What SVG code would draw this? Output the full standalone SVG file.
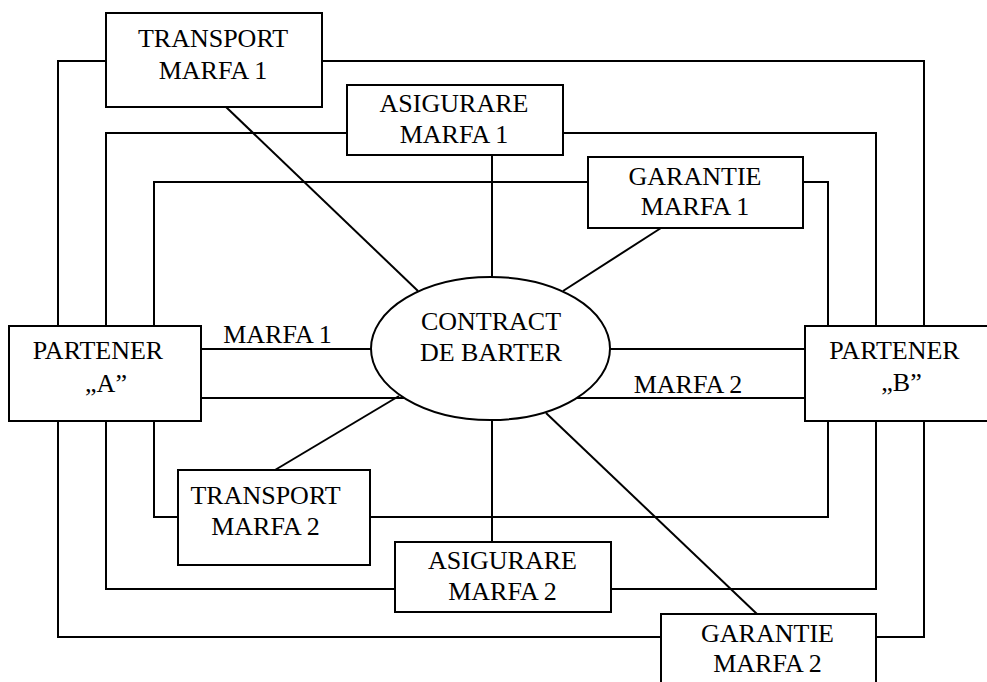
<svg xmlns="http://www.w3.org/2000/svg" width="987" height="682" viewBox="0 0 987 682">
  <style>
    .wire { fill: none; stroke: #000; stroke-width: 2; }
    .box { fill: #fff; stroke: #000; stroke-width: 2; }
    .lbl { font-family: "Liberation Serif", "Times New Roman", serif; font-size: 26px; fill: #000; text-anchor: middle; }
  </style>
  <rect width="987" height="682" fill="#fff"/>

  <g id="connectors">
    <!-- outer loop: transport 1 / garantie 2 -->
    <path class="wire" d="M106,61 H58 V326"/>
    <path class="wire" d="M58,421 V637 H661"/>
    <path class="wire" d="M322,61 H924 V326"/>
    <path class="wire" d="M924,421 V637 H876"/>
    <!-- middle loop: asigurare 1 / asigurare 2 -->
    <path class="wire" d="M347,133 H106 V326"/>
    <path class="wire" d="M106,421 V589 H395"/>
    <path class="wire" d="M563,133 H876 V326"/>
    <path class="wire" d="M876,421 V589 H611"/>
    <!-- inner loop: garantie 1 / transport 2 -->
    <path class="wire" d="M588,182 H154 V326"/>
    <path class="wire" d="M154,421 V517 H178"/>
    <path class="wire" d="M803,182 H828 V326"/>
    <path class="wire" d="M828,421 V517 H370"/>
    <!-- spokes to the contract -->
    <path class="wire" d="M492,155 V280"/>
    <path class="wire" d="M492,418 V542"/>
    <path class="wire" d="M226,107 L418,291"/>
    <path class="wire" d="M661,228 L563,291"/>
    <path class="wire" d="M275,470 L399,396"/>
    <path class="wire" d="M757,614 L546,413"/>
    <!-- goods flows between partners and contract -->
    <path class="wire" d="M201,349 H375"/>
    <path class="wire" d="M201,398 H405"/>
    <path class="wire" d="M606,349 H805"/>
    <path class="wire" d="M576,398 H805"/>
  </g>

  <g id="contract">
    <ellipse class="box" cx="490.5" cy="348.5" rx="119.5" ry="71.5"/>
    <text class="lbl" x="491" y="330">CONTRACT</text>
    <text class="lbl" x="491" y="361">DE BARTER</text>
  </g>

  <g id="partener-a">
    <rect class="box" x="9" y="326" width="192" height="95"/>
    <text class="lbl" x="98" y="359">PARTENER</text>
    <text class="lbl" x="106" y="391.5">„A”</text>
  </g>

  <g id="partener-b">
    <rect class="box" x="805" y="326" width="190" height="95"/>
    <text class="lbl" x="894.5" y="358.5">PARTENER</text>
    <text class="lbl" x="901.5" y="391">„B”</text>
  </g>

  <g id="transport-1">
    <rect class="box" x="106" y="13" width="216" height="94"/>
    <text class="lbl" x="213" y="47">TRANSPORT</text>
    <text class="lbl" x="213" y="79">MARFA 1</text>
  </g>

  <g id="asigurare-1">
    <rect class="box" x="347" y="85" width="216" height="70"/>
    <text class="lbl" x="454" y="111.5">ASIGURARE</text>
    <text class="lbl" x="454" y="143">MARFA 1</text>
  </g>

  <g id="garantie-1">
    <rect class="box" x="588" y="157" width="215" height="71"/>
    <text class="lbl" x="695" y="185">GARANTIE</text>
    <text class="lbl" x="695" y="215">MARFA 1</text>
  </g>

  <g id="transport-2">
    <rect class="box" x="178" y="470" width="192" height="95"/>
    <text class="lbl" x="265.5" y="504">TRANSPORT</text>
    <text class="lbl" x="265.5" y="535">MARFA 2</text>
  </g>

  <g id="asigurare-2">
    <rect class="box" x="395" y="542" width="216" height="70"/>
    <text class="lbl" x="502.5" y="569">ASIGURARE</text>
    <text class="lbl" x="502.5" y="600">MARFA 2</text>
  </g>

  <g id="garantie-2">
    <rect class="box" x="661" y="614" width="215" height="80"/>
    <text class="lbl" x="767.5" y="641.5">GARANTIE</text>
    <text class="lbl" x="767.5" y="671.5">MARFA 2</text>
  </g>

  <g id="flow-labels">
    <text class="lbl" x="277.5" y="342.5">MARFA 1</text>
    <text class="lbl" x="688" y="392.5">MARFA 2</text>
  </g>
</svg>
